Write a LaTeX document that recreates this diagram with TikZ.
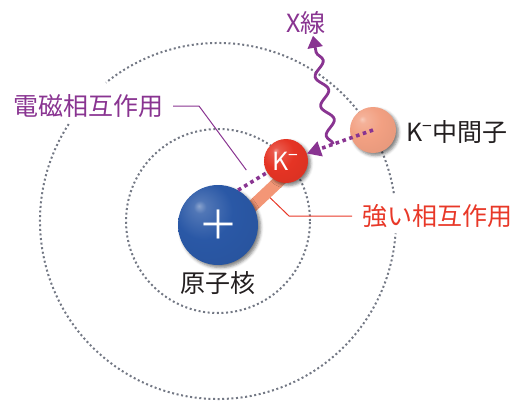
\documentclass[tikz,border=0pt]{standalone}
\usepackage{fontspec}
\setmainfont{Noto Sans CJK JP}
\usetikzlibrary{arrows.meta,decorations.pathmorphing,shadows.blur,backgrounds}

\definecolor{emviolet}{RGB}{137,52,145}
\definecolor{strongred}{RGB}{232,56,40}
\definecolor{nucblue}{RGB}{42,88,166}
\definecolor{kaonred}{RGB}{229,52,36}
\definecolor{mesonpink}{RGB}{242,160,130}
\definecolor{bandpink}{RGB}{243,150,118}
\definecolor{orbitgray}{RGB}{115,120,132}
\definecolor{inkblack}{RGB}{35,31,32}

% sphere shading, light spot up left
\colorlet{orb}{nucblue}
\pgfdeclareradialshading[orb]{orb}{\pgfqpoint{-12bp}{12bp}}{%
  color(0bp)=(orb!55!white); color(4bp)=(orb!82!white); color(18bp)=(orb);
  color(40bp)=(orb!94!black); color(70bp)=(orb!88!black)}

\begin{document}
\begin{tikzpicture}[x=1pt,y=1pt,
  orbit/.style={orbitgray, line width=2pt, dash pattern=on 2pt off 2.6pt},
  sphere/.style={circle, inner sep=0pt, shade, shading=orb, /utils/exec={\colorlet{orb}{#1}},
    blur shadow={shadow xshift=2.5pt, shadow yshift=-2.5pt, shadow blur radius=3pt, shadow opacity=50}},
  emdots/.style={emviolet, line width=3.6pt, dash pattern=on 3.6pt off 3.6pt},
  leader/.style={line width=1pt},
  tag/.style={inner sep=0pt, font=\fontsize{25}{30}\selectfont}]
  \useasboundingbox (0,0) rectangle (518,400);

  % nucleus, bound kaon and free meson
  \node[sphere=nucblue, minimum size=80pt, text=white, font=\fontsize{40}{40}\selectfont] (nuc) at (218,175) {＋};
  \node[sphere=kaonred, minimum size=44pt, text=white, font=\fontsize{25}{25}\selectfont] (kaon) at (286,239) {K\textsuperscript{−}};
  \node[sphere=mesonpink, minimum size=46pt] (meson) at (373,270) {};

  % texts
  \node[tag, text=emviolet, anchor=east] (em-label) at (164,294) {電磁相互作用};
  \node[tag, text=strongred, anchor=west] (strong-label) at (362,184) {強い相互作用};
  \node[tag, text=emviolet] (x-label) at (306,377) {X線};
  \node[tag, text=inkblack, anchor=west] (meson-label) at (406,268) {K\textsuperscript{−}中間子};
  \node[tag, text=inkblack] (nuc-label) at (218,117) {原子核};

  \begin{scope}[on background layer]
    % orbits, the outer one open behind the texts
    \coordinate (o) at ([yshift=4pt]nuc.center);
    \draw[orbit] (o) circle[radius=92];
    \draw[orbit] ([shift={(9:178)}]o) arc[start angle=9, end angle=129, radius=178];
    \draw[orbit] ([shift={(147:178)}]o) arc[start angle=147, end angle=356, radius=178];
    % strong force band, its leader runs out from under it
    \path ([shift={(7,-7)}]nuc.center) -- ([shift={(7,-7)}]kaon.center) coordinate[pos=0.6] (strong-pt);
    \draw[strongred, leader] (strong-pt) -- ([xshift=-73pt]strong-label.west) -- ([xshift=-10pt]strong-label.west);
    \draw[bandpink, line width=12pt] ([shift={(7,-7)}]nuc.center) -- ([shift={(7,-7)}]kaon.center);
  \end{scope}

  % electromagnetic force
  \draw[emdots] (nuc.60) -- (kaon);
  \path (nuc.60) -- (kaon) coordinate[pos=0.55] (em-pt);
  \draw[emviolet, leader, shorten >=13pt] ([xshift=9pt]em-label.east) -- ([xshift=35pt]em-label.east) -- (em-pt);

  % capture and x-ray
  \draw[emdots, -{Triangle[length=14pt, width=15pt]}] (meson.center) -- (kaon);
  \path (meson.center) -- (kaon) coordinate[pos=0.6] (xray-pt);
  \draw[emviolet, line width=2.8pt, -{Triangle[length=12pt, width=15pt]}, decorate,
    decoration={snake, amplitude=5.5pt, segment length=30pt, post length=12pt}]
    (xray-pt) -- ([xshift=7pt, yshift=-1pt]x-label.south);
\end{tikzpicture}
\end{document}
